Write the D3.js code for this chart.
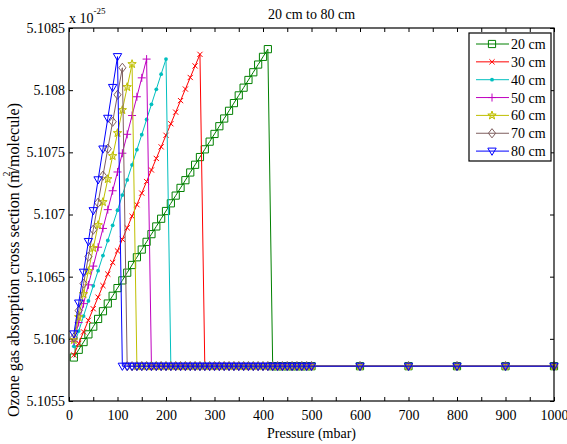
<!DOCTYPE html>
<html>
<head>
<meta charset="utf-8">
<script src="https://cdn.jsdelivr.net/npm/d3@7"></script>
<style>
  html, body { margin: 0; padding: 0; background: #fff; }
  svg { display: block; }
  svg text { font-family: "Liberation Serif", "Times New Roman", "DejaVu Serif", serif !important; }
</style>
</head>
<body>
<svg id="chart" width="567" height="444"></svg>
<script>
// Pressure grid (mbar) shared by all series
const pressure = [10,20,30,40,50,60,70,80,90,100,110,120,130,140,150,160,170,180,190,200,
  210,220,230,240,250,260,270,280,290,300,310,320,330,340,350,360,370,380,390,400,
  410,420,430,440,450,460,470,480,490,500,600,700,800,900,1000];

// Absorption cross section, in units of 1e-25 m^2/molecule
const cs20 = [5.10585,5.105912,5.105974,5.106036,5.106098,5.10616,5.106222,5.106284,5.106346,5.106408,
  5.10647,5.106532,5.106594,5.106656,5.106718,5.10678,5.106842,5.106904,5.106966,5.107028,
  5.10709,5.107152,5.107214,5.107276,5.107338,5.1074,5.107462,5.107524,5.107586,5.107648,
  5.10771,5.107772,5.107834,5.107896,5.107958,5.10802,5.108082,5.108144,5.108206,5.108268,
  5.10833,5.10578,5.10578,5.10578,5.10578,5.10578,5.10578,5.10578,5.10578,5.10578,
  5.10578,5.10578,5.10578,5.10578,5.10578];
const cs30 = [5.10587,5.105963,5.106056,5.106149,5.106242,5.106335,5.106428,5.106521,5.106614,5.106707,
  5.1068,5.106893,5.106986,5.107079,5.107172,5.107265,5.107358,5.107451,5.107544,5.107637,
  5.10773,5.107823,5.107916,5.108009,5.108102,5.108195,5.108288,5.10578,5.10578,5.10578,
  5.10578,5.10578,5.10578,5.10578,5.10578,5.10578,5.10578,5.10578,5.10578,5.10578,
  5.10578,5.10578,5.10578,5.10578,5.10578,5.10578,5.10578,5.10578,5.10578,5.10578,
  5.10578,5.10578,5.10578,5.10578,5.10578];
const cs40 = [5.10594,5.106062,5.106183,5.106305,5.106426,5.106548,5.10667,5.106791,5.106913,5.107034,
  5.107156,5.107278,5.107399,5.107521,5.107642,5.107764,5.107886,5.108007,5.108129,5.10825,
  5.10578,5.10578,5.10578,5.10578,5.10578,5.10578,5.10578,5.10578,5.10578,5.10578,
  5.10578,5.10578,5.10578,5.10578,5.10578,5.10578,5.10578,5.10578,5.10578,5.10578,
  5.10578,5.10578,5.10578,5.10578,5.10578,5.10578,5.10578,5.10578,5.10578,5.10578,
  5.10578,5.10578,5.10578,5.10578,5.10578];
const cs50 = [5.10598,5.106131,5.106283,5.106434,5.106585,5.106737,5.106888,5.107039,5.107191,5.107342,
  5.107493,5.107645,5.107796,5.107947,5.108099,5.10825,5.10578,5.10578,5.10578,5.10578,
  5.10578,5.10578,5.10578,5.10578,5.10578,5.10578,5.10578,5.10578,5.10578,5.10578,
  5.10578,5.10578,5.10578,5.10578,5.10578,5.10578,5.10578,5.10578,5.10578,5.10578,
  5.10578,5.10578,5.10578,5.10578,5.10578,5.10578,5.10578,5.10578,5.10578,5.10578,
  5.10578,5.10578,5.10578,5.10578,5.10578];
const cs60 = [5.10599,5.106175,5.10636,5.106545,5.10673,5.106915,5.1071,5.107285,5.10747,5.107655,
  5.10784,5.108025,5.10821,5.10578,5.10578,5.10578,5.10578,5.10578,5.10578,5.10578,
  5.10578,5.10578,5.10578,5.10578,5.10578,5.10578,5.10578,5.10578,5.10578,5.10578,
  5.10578,5.10578,5.10578,5.10578,5.10578,5.10578,5.10578,5.10578,5.10578,5.10578,
  5.10578,5.10578,5.10578,5.10578,5.10578,5.10578,5.10578,5.10578,5.10578,5.10578,
  5.10578,5.10578,5.10578,5.10578,5.10578];
const cs70 = [5.10601,5.106227,5.106444,5.106661,5.106878,5.107095,5.107312,5.107529,5.107746,5.107963,
  5.10818,5.10578,5.10578,5.10578,5.10578,5.10578,5.10578,5.10578,5.10578,5.10578,
  5.10578,5.10578,5.10578,5.10578,5.10578,5.10578,5.10578,5.10578,5.10578,5.10578,
  5.10578,5.10578,5.10578,5.10578,5.10578,5.10578,5.10578,5.10578,5.10578,5.10578,
  5.10578,5.10578,5.10578,5.10578,5.10578,5.10578,5.10578,5.10578,5.10578,5.10578,
  5.10578,5.10578,5.10578,5.10578,5.10578];
const cs80 = [5.10604,5.106288,5.106536,5.106783,5.107031,5.107279,5.107527,5.107774,5.108022,5.10827,
  5.10578,5.10578,5.10578,5.10578,5.10578,5.10578,5.10578,5.10578,5.10578,5.10578,
  5.10578,5.10578,5.10578,5.10578,5.10578,5.10578,5.10578,5.10578,5.10578,5.10578,
  5.10578,5.10578,5.10578,5.10578,5.10578,5.10578,5.10578,5.10578,5.10578,5.10578,
  5.10578,5.10578,5.10578,5.10578,5.10578,5.10578,5.10578,5.10578,5.10578,5.10578,
  5.10578,5.10578,5.10578,5.10578,5.10578];

const seriesNames = ["20 cm","30 cm","40 cm","50 cm","60 cm","70 cm","80 cm"];
const seriesValues = [cs20, cs30, cs40, cs50, cs60, cs70, cs80];
const seriesColors = ["#008000","#ff0000","#00bfbf","#bf00bf","#bfbf00","#7f5f5f","#0000ff"];
const seriesMarkers = ["square","x","dot","plus","star","diamond","triangleDown"];

const xTicks = [0,50,100,150,200,250,300,350,400,450,500,550,600,650,700,750,800,850,900,950,1000];
const xTickLabels = ["0","","100","","200","","300","","400","","500","","600","","700","","800","","900","","1000"];
const yTicks = [5.1055,5.106,5.1065,5.107,5.1075,5.108,5.1085];
const yTickLabels = ["5.1055","5.106","5.1065","5.107","5.1075","5.108","5.1085"];

const FONT = "'Liberation Serif', 'Times New Roman', 'DejaVu Serif', serif";
const svg = d3.select("#chart").attr("font-family", FONT);
const L = 69, R = 554, T = 28, B = 401;
const x = d3.scaleLinear().domain([0, 1000]).range([L, R]);
const y = d3.scaleLinear().domain([5.1055, 5.1085]).range([B, T]);

// Marker shapes (outlined like the classic plotting defaults)
function markerPath(kind) {
  switch (kind) {
    case "square": return "M-3.6,-3.6H3.6V3.6H-3.6Z";
    case "x": return "M-2.6,-2.6L2.6,2.6M-2.6,2.6L2.6,-2.6";
    case "plus": return "M-4,0H4M0,-4V4";
    case "diamond": return "M0,-4.6L3.6,0L0,4.6L-3.6,0Z";
    case "triangleDown": return "M-4.2,-3L4.2,-3L0,4.2Z";
    case "star": {
      const pts = [];
      for (let i = 0; i < 10; i++) {
        const r = i % 2 === 0 ? 4.4 : 1.8;
        const a = -Math.PI / 2 + i * Math.PI / 5;
        pts.push([r * Math.cos(a), r * Math.sin(a)]);
      }
      return "M" + pts.map(p => p[0].toFixed(2) + "," + p[1].toFixed(2)).join("L") + "Z";
    }
    default: return "";
  }
}
function drawMarker(g, kind, color) {
  if (kind === "dot") {
    g.append("circle").attr("r", 1.9).attr("fill", color);
  } else {
    g.append("path").attr("d", markerPath(kind))
      .attr("fill", kind === "star" ? color : "none")
      .attr("fill-opacity", kind === "star" ? 0.35 : null)
      .attr("stroke", color).attr("stroke-width", 1);
  }
}

// Axes with inward ticks on all four sides
const fontSize = 14;
const xAxis = d3.axisBottom(x).tickValues(xTicks).tickSizeInner(-4).tickSizeOuter(0).tickPadding(9)
  .tickFormat((d, i) => xTickLabels[i]);
const gx = svg.append("g").attr("transform", `translate(0,${B})`).call(xAxis);
const gxTop = svg.append("g").attr("transform", `translate(0,${T})`)
  .call(d3.axisTop(x).tickValues(xTicks).tickSizeInner(-4).tickSizeOuter(0).tickFormat(""));
const yAxis = d3.axisLeft(y).tickValues(yTicks).tickSizeInner(-4).tickSizeOuter(0).tickPadding(4)
  .tickFormat((d, i) => yTickLabels[i]);
const gy = svg.append("g").attr("transform", `translate(${L},0)`).call(yAxis);
const gyRight = svg.append("g").attr("transform", `translate(${R},0)`)
  .call(d3.axisRight(y).tickValues(yTicks).tickSizeInner(-4).tickSizeOuter(0).tickFormat(""));
[gx, gxTop, gy, gyRight].forEach(g => {
  g.attr("font-family", FONT).attr("font-size", fontSize);
  g.select(".domain").remove();
  g.selectAll(".tick line").attr("stroke", "#000");
  g.selectAll(".tick text").attr("fill", "#000");
});

// Series: line first, then markers on each sample
const line = d3.line().x((d, i) => x(pressure[i])).y(d => y(d));
const plot = svg.append("g");
seriesValues.forEach((vals, s) => {
  const g = plot.append("g");
  g.append("path").datum(vals).attr("d", line)
    .attr("fill", "none").attr("stroke", seriesColors[s]).attr("stroke-width", 1);
  vals.forEach((v, i) => {
    const m = g.append("g").attr("transform", `translate(${x(pressure[i])},${y(v)})`);
    drawMarker(m, seriesMarkers[s], seriesColors[s]);
  });
});

// Frame
svg.append("rect").attr("x", L).attr("y", T).attr("width", R - L).attr("height", B - T)
  .attr("fill", "none").attr("stroke", "#000").attr("stroke-width", 1.2);

// Exponent note
const expo = svg.append("text").attr("x", 69).attr("y", 23).attr("font-size", fontSize).attr("fill", "#000");
expo.append("tspan").text("x 10");
expo.append("tspan").attr("font-size", 9).attr("dy", -9).text("-25");

// Title
svg.append("text").attr("x", (L + R) / 2).attr("y", 19).attr("text-anchor", "middle")
  .attr("font-size", fontSize).attr("fill", "#000").text("20 cm to 80 cm");

// Axis labels
svg.append("text").attr("x", (L + R) / 2).attr("y", 438).attr("text-anchor", "middle")
  .attr("font-size", fontSize).attr("fill", "#000").text("Pressure (mbar)");
const yl = svg.append("text").attr("transform", "translate(19,260) rotate(-90)")
  .attr("text-anchor", "middle").attr("font-size", 16).attr("fill", "#000");
yl.append("tspan").text("Ozone gas absorption cross section (m");
yl.append("tspan").attr("font-size", 10).attr("dy", -9).attr("dx", -6).text("2");
yl.append("tspan").attr("dy", 9).text("/molecule)");

// Legend
const lg = svg.append("g");
lg.append("rect").attr("x", 469).attr("y", 33).attr("width", 82).attr("height", 128)
  .attr("fill", "#fff").attr("stroke", "#000").attr("stroke-width", 1.2);
seriesNames.forEach((name, s) => {
  const yy = 44 + s * 17.85;
  lg.append("line").attr("x1", 476).attr("x2", 509).attr("y1", yy).attr("y2", yy)
    .attr("stroke", seriesColors[s]).attr("stroke-width", 1);
  drawMarker(lg.append("g").attr("transform", `translate(492,${yy})`), seriesMarkers[s], seriesColors[s]);
  lg.append("text").attr("x", 511).attr("y", yy + 5).attr("font-size", fontSize).attr("fill", "#000").text(name);
});
</script>
</body>
</html>
